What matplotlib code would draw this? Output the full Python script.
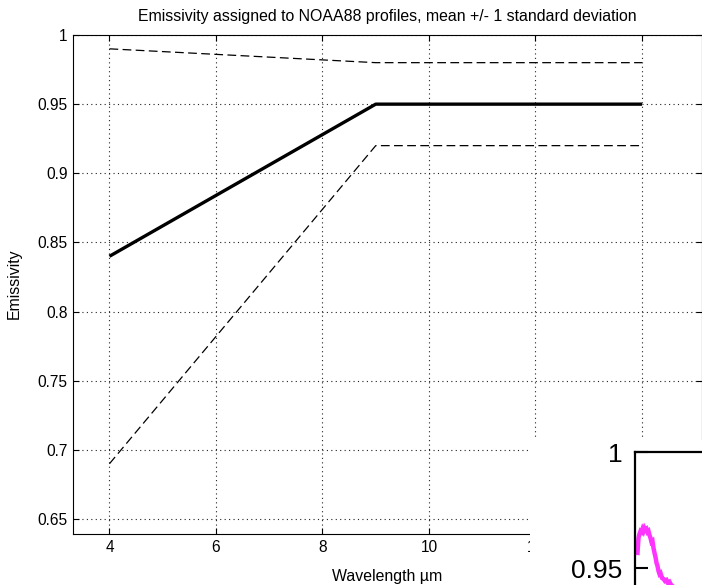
import matplotlib
matplotlib.use("Agg")
import matplotlib.pyplot as plt
from matplotlib.patches import Rectangle
import numpy as np

plt.rcParams['font.family'] = ['Liberation Sans', 'DejaVu Sans']

# ---- main chart data ----
wavelength = [4, 9, 14]
emis_mean = [0.84, 0.95, 0.95]
emis_std = [0.15, 0.03, 0.03]
x_ticks = [4, 6, 8, 10, 12, 14]
y_ticks = [0.65, 0.7, 0.75, 0.8, 0.85, 0.9, 0.95, 1.0]
y_tick_labels = ['0.65', '0.7', '0.75', '0.8', '0.85', '0.9', '0.95', '1']

# ---- overlapping inset (second figure, partly visible) ----
inset_x = [2.5, 3, 3.5, 4.5, 5.5, 6.5, 7.5, 8.5, 9.5, 10.5, 11.5, 12.5, 13.5,
           14.5, 15.5, 16.5, 17.5, 18.5, 19.5, 20.5, 21.5, 22.5, 23.5, 24.5,
           25.5, 27, 28.5, 30, 31.5, 33, 34.5, 36, 37.5, 40, 45]
inset_y = [0.9565, 0.9599, 0.9629, 0.9647, 0.9659, 0.9655, 0.9668, 0.9659,
           0.9672, 0.9664, 0.9668, 0.9655, 0.9659, 0.9642, 0.9629, 0.9612,
           0.9616, 0.9586, 0.9565, 0.9547, 0.9522, 0.9509, 0.9487, 0.9474,
           0.9478, 0.9457, 0.9453, 0.9444, 0.9448, 0.9435, 0.9440, 0.9427,
           0.9422, 0.9414, 0.9397]
inset_ticks = [0.95, 1.0]
inset_tick_labels = ['0.95', '1']

W, H = 702, 585
fig = plt.figure(figsize=(W / 100, H / 100), dpi=100)

def fx(px):
    return px / W

def fy(py):
    return 1 - py / H

# main axes
left, right, top, bottom = 73, 702, 35, 533.7
ax = fig.add_axes([fx(left), fy(bottom), fx(right - left), (bottom - top) / H])
mean = np.array(emis_mean)
std = np.array(emis_std)
ax.plot(wavelength, mean, color='black', lw=2.4, solid_capstyle='butt', zorder=3)
ax.plot(wavelength, mean + std, color='black', lw=0.9, linestyle=(0, (7, 3.5)), zorder=3)
ax.plot(wavelength, mean - std, color='black', lw=0.9, linestyle=(0, (7, 3.5)), zorder=3)

ax.set_xlim(3.315, 3.315 + (right - left) / 53.25)
ax.set_ylim(0.6394, 1.0)
ax.set_xticks(x_ticks)
ax.set_xticklabels([str(v) for v in x_ticks])
ax.set_yticks(y_ticks)
ax.set_yticklabels(y_tick_labels)
ax.grid(True, color='#222222', linestyle=(0, (1, 3)), lw=0.8)
ax.tick_params(direction='in', length=4.5, width=0.8, top=True, right=True,
               labelsize=11.2, colors='black')
ax.tick_params(axis='y', pad=3.8)
ax.tick_params(axis='x', pad=4.5)
for s in ax.spines.values():
    s.set_linewidth(0.8)
    s.set_color('black')

fig.text(fx(387), fy(21), 'Emissivity assigned to NOAA88 profiles, mean +/- 1 standard deviation',
         ha='center', va='baseline', fontsize=11.4)
fig.text(fx(14), fy(284), 'Emissivity', rotation=90, ha='center', va='center', fontsize=11.4)
fig.text(fx(387), fy(577), 'Wavelength \u00b5m', ha='center', va='center', fontsize=11.4)

# white cover of the overlapping second figure
fig.patches.append(Rectangle((fx(530), 0), fx(W - 530), (H - 440) / H,
                             transform=fig.transFigure, facecolor='white',
                             edgecolor='none', zorder=5))

# inset axes, extending beyond the canvas
i_left, i_top, i_right, i_bottom = 635, 452, 900, 800
iax = fig.add_axes([fx(i_left), fy(i_bottom), fx(i_right - i_left), (i_bottom - i_top) / H])
iax.set_zorder(10)
iax.patch.set_alpha(0)
iax.plot(inset_x, inset_y, color='#ff33ff', lw=3.2, solid_joinstyle='miter')
iax.set_xlim(0, i_right - i_left)
iax.set_ylim(1 - (i_bottom - i_top) / 2320, 1.0)
iax.set_xticks([])
iax.set_yticks(inset_ticks)
iax.set_yticklabels(inset_tick_labels,
                    fontfamily=['Liberation Sans Narrow', 'Liberation Sans', 'DejaVu Sans'],
                    fontsize=19)
iax.tick_params(axis='y', direction='in', length=9.5, width=1.5, pad=9)
for name, s in iax.spines.items():
    s.set_linewidth(1.6)
    s.set_color('black')

fig.savefig('out.png', dpi=100)
